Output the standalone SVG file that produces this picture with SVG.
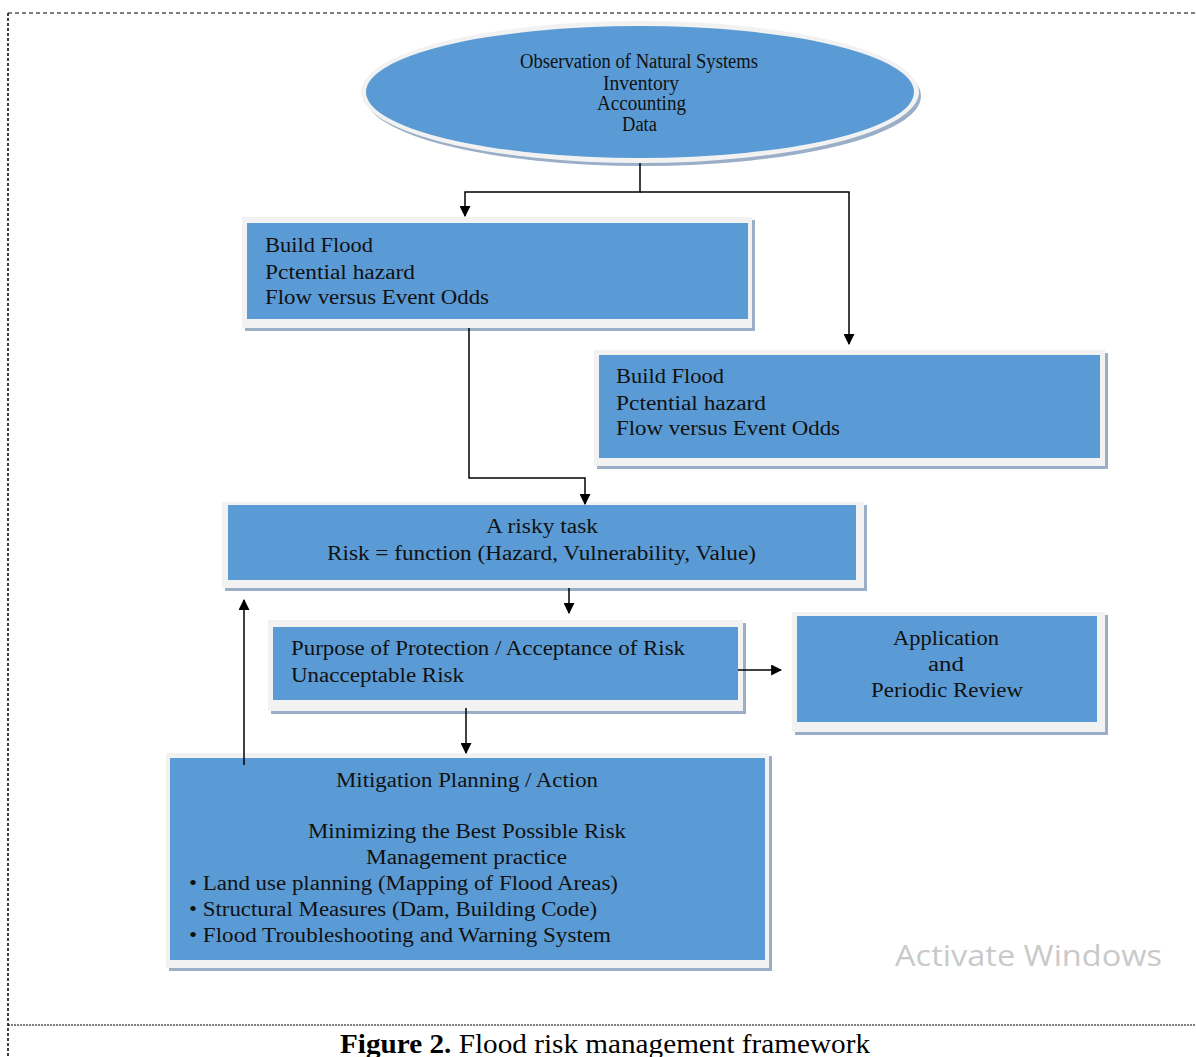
<svg xmlns="http://www.w3.org/2000/svg" width="1196" height="1057" viewBox="0 0 1196 1057">
<defs>
<style>
.t{font-family:"Liberation Serif","Times New Roman",serif;font-size:20px;fill:#111}
.c{text-anchor:middle}
.sh{fill:#9aaec8}
.fr{fill:#f2f2f2}
.bl{fill:#5b9bd5}
.ln{stroke:#000;stroke-width:1.5;fill:none}
</style>
<marker id="ah" viewBox="0 0 10 10" refX="9" refY="5" markerWidth="11" markerHeight="11" markerUnits="userSpaceOnUse" orient="auto">
<path d="M0,0 L10,5 L0,10 z" fill="#000"/>
</marker>
</defs>
<rect width="1196" height="1057" fill="#fff"/>
<g id="border">
<line x1="8" y1="13" x2="1196" y2="13" stroke="#000" stroke-width="1" stroke-dasharray="4,3"/>
<line x1="8" y1="13" x2="8" y2="1057" stroke="#000" stroke-width="1.5" stroke-dasharray="3,2"/>
<line x1="8" y1="1025" x2="1196" y2="1025" stroke="#000" stroke-width="1" stroke-dasharray="2,1"/>
</g>
<g id="observation">
<ellipse cx="643" cy="96" rx="278" ry="70" class="sh"/>
<ellipse cx="640" cy="92" rx="279" ry="71" class="fr"/>
<ellipse cx="640" cy="92" rx="274" ry="66" class="bl"/>
<text class="t" x="520" y="68" font-size="17" textLength="238" lengthAdjust="spacingAndGlyphs">Observation of Natural Systems</text>
<text class="t" x="603" y="90" font-size="17" textLength="76" lengthAdjust="spacingAndGlyphs">Inventory</text>
<text class="t" x="597" y="110" font-size="17" textLength="89" lengthAdjust="spacingAndGlyphs">Accounting</text>
<text class="t" x="622" y="131" font-size="17" textLength="35" lengthAdjust="spacingAndGlyphs">Data</text>
</g>
<g id="box1">
<rect x="245" y="220" width="510" height="111" class="sh"/>
<rect x="242" y="217" width="510" height="111" class="fr"/>
<rect x="247" y="223" width="501" height="96" class="bl"/>
<text class="t" x="265" y="252" textLength="108" lengthAdjust="spacingAndGlyphs">Build Flood</text>
<text class="t" x="265" y="279" textLength="150" lengthAdjust="spacingAndGlyphs">Pctential hazard</text>
<text class="t" x="265" y="304" textLength="224" lengthAdjust="spacingAndGlyphs">Flow  versus Event Odds</text>
</g>
<g id="box2">
<rect x="597" y="353" width="511" height="116" class="sh"/>
<rect x="594" y="350" width="511" height="116" class="fr"/>
<rect x="599" y="355" width="501" height="103" class="bl"/>
<text class="t" x="616" y="383" textLength="108" lengthAdjust="spacingAndGlyphs">Build Flood</text>
<text class="t" x="616" y="410" textLength="150" lengthAdjust="spacingAndGlyphs">Pctential hazard</text>
<text class="t" x="616" y="435" textLength="224" lengthAdjust="spacingAndGlyphs">Flow  versus Event Odds</text>
</g>
<g id="box3">
<rect x="225" y="505" width="642" height="86" class="sh"/>
<rect x="222" y="502" width="642" height="86" class="fr"/>
<rect x="228" y="505" width="628" height="75" class="bl"/>
<text class="t" x="486" y="533" textLength="112" lengthAdjust="spacingAndGlyphs">A risky task</text>
<text class="t" x="327" y="560" textLength="429" lengthAdjust="spacingAndGlyphs">Risk = function (Hazard, Vulnerability, Value)</text>
</g>
<g id="box4">
<rect x="271" y="623" width="475" height="91" class="sh"/>
<rect x="268" y="620" width="475" height="91" class="fr"/>
<rect x="273" y="627" width="465" height="73" class="bl"/>
<text class="t" x="291" y="655" font-size="19" textLength="394" lengthAdjust="spacingAndGlyphs">Purpose of Protection / Acceptance of Risk</text>
<text class="t" x="291" y="682" font-size="19" textLength="173" lengthAdjust="spacingAndGlyphs">Unacceptable Risk</text>
</g>
<g id="box5">
<rect x="795" y="615" width="313" height="120" class="sh"/>
<rect x="792" y="612" width="313" height="120" class="fr"/>
<rect x="797" y="616" width="300" height="106" class="bl"/>
<text class="t" x="893" y="645" textLength="106" lengthAdjust="spacingAndGlyphs">Application</text>
<text class="t" x="928" y="671" textLength="36" lengthAdjust="spacingAndGlyphs">and</text>
<text class="t" x="871" y="697" textLength="152" lengthAdjust="spacingAndGlyphs">Periodic  Review</text>
</g>
<g id="box6">
<rect x="169" y="756" width="603" height="215" class="sh"/>
<rect x="166" y="753" width="603" height="215" class="fr"/>
<rect x="170" y="758" width="595" height="202" class="bl"/>
<text class="t" x="336" y="787" textLength="262" lengthAdjust="spacingAndGlyphs">Mitigation Planning / Action</text>
<text class="t" x="308" y="838" textLength="318" lengthAdjust="spacingAndGlyphs">Minimizing  the Best Possible  Risk</text>
<text class="t" x="366" y="864" textLength="201" lengthAdjust="spacingAndGlyphs">Management practice</text>
<text class="t" x="189" y="890" textLength="429" lengthAdjust="spacingAndGlyphs">• Land use planning (Mapping of Flood Areas)</text>
<text class="t" x="189" y="916" textLength="408" lengthAdjust="spacingAndGlyphs">• Structural Measures (Dam, Building Code)</text>
<text class="t" x="189" y="942" textLength="422" lengthAdjust="spacingAndGlyphs">• Flood Troubleshooting and Warning System</text>
</g>
<g id="connectors">
<polyline class="ln" points="640,163 640,192 465,192 465,216" marker-end="url(#ah)"/>
<polyline class="ln" points="640,192 849,192 849,344" marker-end="url(#ah)"/>
<polyline class="ln" points="469,328 469,478 585,478 585,504" marker-end="url(#ah)"/>
<line class="ln" x1="569" y1="588" x2="569" y2="613" marker-end="url(#ah)"/>
<line class="ln" x1="738" y1="670" x2="781" y2="670" marker-end="url(#ah)"/>
<line class="ln" x1="466" y1="708" x2="466" y2="753" marker-end="url(#ah)"/>
<line class="ln" x1="244" y1="765" x2="244" y2="600" marker-end="url(#ah)"/>
</g>
<text x="895" y="966" font-family="'Open Sans','Noto Sans',sans-serif" font-size="30" fill="#c9c9c9" textLength="267" lengthAdjust="spacingAndGlyphs">Activate Windows</text>
<text x="340" y="1053" font-family="'Liberation Serif','Times New Roman',serif" font-size="28" fill="#000" textLength="530" lengthAdjust="spacingAndGlyphs"><tspan font-weight="bold">Figure 2.</tspan> Flood risk management framework</text>
</svg>
